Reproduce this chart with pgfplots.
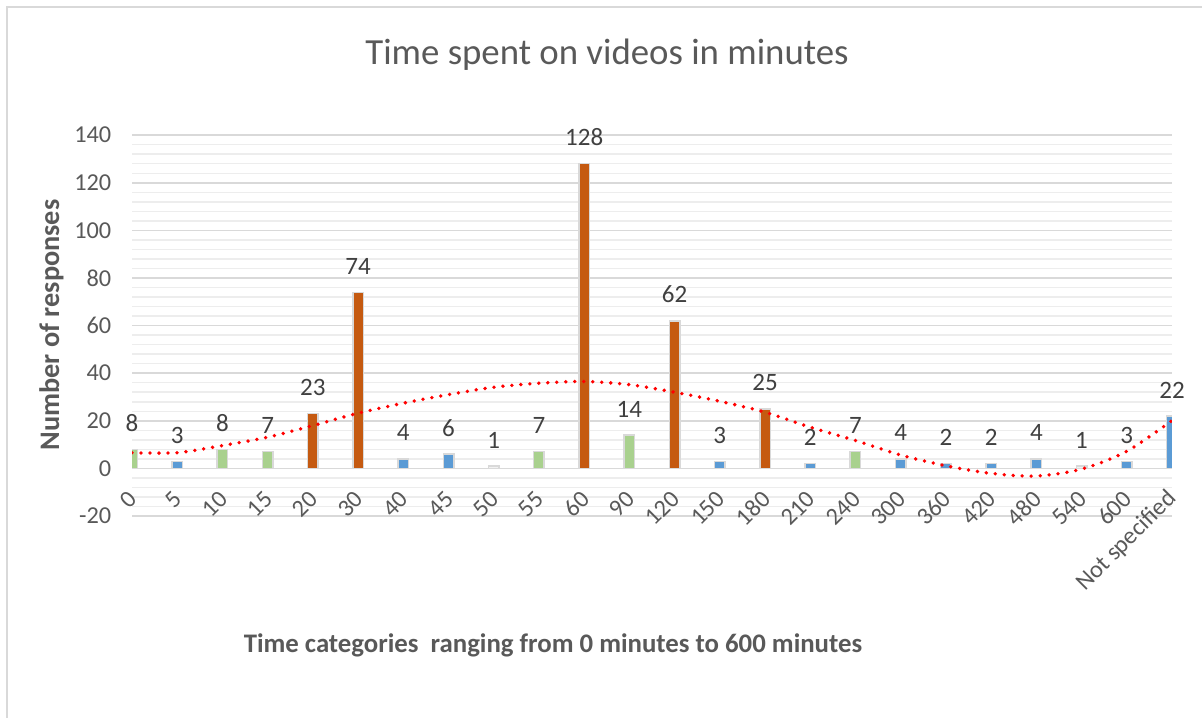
\documentclass[border=0pt]{standalone}
\usepackage{pgfplots}
\pgfplotsset{compat=1.18}
\usepackage{fontspec}
\setmainfont{Carlito}
\definecolor{cblue}{HTML}{5B9BD5}
\definecolor{corange}{HTML}{C55A11}
\definecolor{cgreen}{HTML}{A9D18E}
\definecolor{cpale}{HTML}{F2F2F2}
\definecolor{bordergray}{HTML}{D9D9D9}
\definecolor{gridmajor}{HTML}{D9D9D9}
\definecolor{gridminor}{HTML}{EDEDED}
\definecolor{txtgray}{HTML}{595959}
\definecolor{lblgray}{HTML}{404040}
\newcommand\tickfont{\fontsize{24.3bp}{28bp}\selectfont}
\newcommand\lblfont{\fontsize{25bp}{28bp}\selectfont}
\begin{document}
\begin{tikzpicture}[x=1bp,y=1bp]
\draw[bordergray, line width=2bp] (7,-20) -- (7,711) -- (1225,711);
\node[anchor=base, text=txtgray, font=\fontsize{36.8bp}{40bp}\selectfont] at (607,653) {Time spent on videos in minutes};
\node[anchor=base, text=txtgray, font=\fontsize{26.8bp}{30bp}\selectfont\bfseries] at (553,65) {Time categories\ \ ranging from 0 minutes to 600 minutes};
\node[anchor=base, rotate=90, text=txtgray, font=\fontsize{28.3bp}{31bp}\selectfont\bfseries] at (59,393) {Number of responses};
\begin{axis}[
  at={(132bp,202bp)}, anchor=south west,
  width=1040bp, height=380.8bp, scale only axis,
  xmin=0, xmax=23, ymin=-20, ymax=140,
  ytick={-20,0,20,40,60,80,100,120,140}, minor y tick num=4,
  ymajorgrids, yminorgrids,
  major grid style={draw=gridmajor, line width=1.5bp},
  minor grid style={draw=gridminor, line width=1.5bp},
  axis line style={draw=none},
  major tick length=0pt, minor tick length=0pt,
  xtick={0,1,...,23},
  xticklabels={0,5,10,15,20,30,40,45,50,55,60,90,120,150,180,210,240,300,360,420,480,540,600,Not specified},
  xticklabel style={yshift=21bp, xshift=1bp, rotate=45, anchor=east, inner sep=0pt, font=\tickfont, text=txtgray},
  yticklabel style={anchor=east, inner sep=0pt, xshift=-20.5bp, font=\tickfont, text=txtgray},
  /pgf/number format/assume math mode=true,
  mybar/.style={ybar, bar width=10.5bp, bar shift=0pt, draw=bordergray, line width=1.5bp, fill=#1,
    nodes near coords, nodes near coords style={font=\lblfont, text=lblgray, anchor=base, inner sep=0pt, yshift=18bp}},
]
\addplot[mybar=cgreen] coordinates {(0,8) (2,8) (3,7) (9,7) (11,14) (16,7)};
\addplot[mybar=cblue] coordinates {(1,3) (6,4) (7,6) (13,3) (15,2) (17,4) (18,2) (19,2) (20,4) (22,3) (23,22)};
\addplot[mybar=corange] coordinates {(4,23) (5,74) (10,128) (12,62) (14,25)};
\addplot[mybar=cpale] coordinates {(8,1) (21,1)};
\addplot[red, line width=3.8bp, dash pattern=on 0bp off 9bp, line cap=round, smooth, no markers] coordinates {
(0,6.6) (1,6.6) (2,9.6) (3,13.1) (4,18.0) (5,23.2) (6,27.4) (7,31.0) (8,34.1) (9,35.8) (10,36.5) (11,35.2)
(12,32.0) (13,28.2) (14,23.6) (15,17.3) (16,11.7) (17,5.6) (18,1.1) (19,-2.1) (20,-3.2) (21,-0.3) (22,7.2) (23,20.1)};
\end{axis}
\pgfresetboundingbox
\useasboundingbox (0,0) rectangle (1202,718);
\end{tikzpicture}
\end{document}
